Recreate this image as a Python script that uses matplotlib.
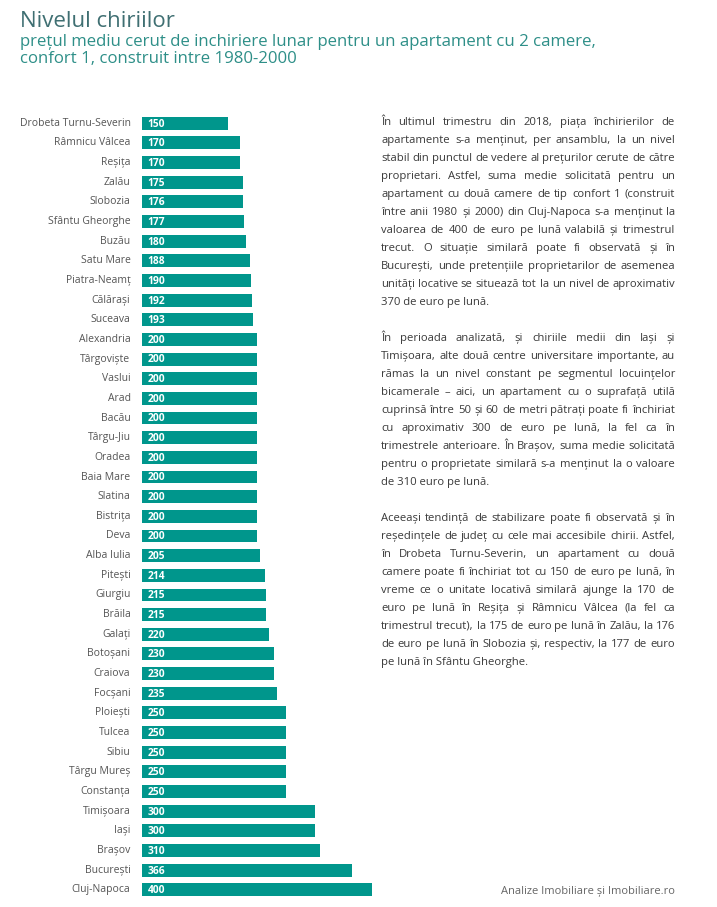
import matplotlib
matplotlib.use("Agg")
import matplotlib.pyplot as plt

plt.rcParams['font.family'] = ['Open Sans', 'DejaVu Sans']

TEAL = "#00968c"

cities = [
    "Drobeta Turnu-Severin", "Râmnicu Vâlcea", "Reșița", "Zalău", "Slobozia",
    "Sfântu Gheorghe", "Buzău", "Satu Mare", "Piatra-Neamț", "Călărași",
    "Suceava", "Alexandria", "Târgoviște", "Vaslui", "Arad", "Bacău",
    "Târgu-Jiu", "Oradea", "Baia Mare", "Slatina", "Bistrița", "Deva",
    "Alba Iulia", "Pitești", "Giurgiu", "Brăila", "Galați", "Botoșani",
    "Craiova", "Focșani", "Ploiești", "Tulcea", "Sibiu", "Târgu Mureș",
    "Constanța", "Timișoara", "Iași", "Brașov", "București", "Cluj-Napoca",
]
rents = [
    150, 170, 170, 175, 176, 177, 180, 188, 190, 192,
    193, 200, 200, 200, 200, 200, 200, 200, 200, 200, 200, 200,
    205, 214, 215, 215, 220, 230, 230, 235, 250, 250, 250, 250,
    250, 300, 300, 310, 366, 400,
]

title = "Nivelul chiriilor"
subtitle = ["prețul mediu cerut de inchiriere lunar pentru un apartament cu 2 camere,",
            "confort 1, construit intre 1980-2000"]
source = "Analize Imobiliare și Imobiliare.ro"

paragraphs = [
    ["În ultimul trimestru din 2018, piața închirierilor de",
     "apartamente s-a menținut, per ansamblu, la un nivel",
     "stabil din punctul de vedere al prețurilor cerute de către",
     "proprietari. Astfel, suma medie solicitată pentru un",
     "apartament cu două camere de tip confort 1 (construit",
     "între anii 1980 și 2000) din Cluj-Napoca s-a menținut la",
     "valoarea de 400 de euro pe lună valabilă și trimestrul",
     "trecut. O situație similară poate fi observată și în",
     "București, unde pretențiile proprietarilor de asemenea",
     "unități locative se situează tot la un nivel de aproximativ",
     "370 de euro pe lună."],
    ["În perioada analizată, și chiriile medii din Iași și",
     "Timișoara, alte două centre universitare importante, au",
     "rămas la un nivel constant pe segmentul locuințelor",
     "bicamerale – aici, un apartament cu o suprafață utilă",
     "cuprinsă între 50 și 60 de metri pătrați poate fi închiriat",
     "cu aproximativ 300 de euro pe lună, la fel ca în",
     "trimestrele anterioare. În Brașov, suma medie solicitată",
     "pentru o proprietate similară s-a menținut la o valoare",
     "de 310 euro pe lună."],
    ["Aceeași tendință de stabilizare poate fi observată și în",
     "reședințele de județ cu cele mai accesibile chirii. Astfel,",
     "în Drobeta Turnu-Severin, un apartament cu două",
     "camere poate fi închiriat tot cu 150 de euro pe lună, în",
     "vreme ce o unitate locativă similară ajunge la 170 de",
     "euro pe lună în Reșița și Râmnicu Vâlcea (la fel ca",
     "trimestrul trecut), la 175 de euro pe lună în Zalău, la 176",
     "de euro pe lună în Slobozia și, respectiv, la 177 de euro",
     "pe lună în Sfântu Gheorghe."],
]

W, H = 717, 907
fig = plt.figure(figsize=(W / 100, H / 100), dpi=100)

# bar axes placed in pixel terms of the reference
x0, x1 = 142, 372
y_top, y_bot = 113.2, 899.8
ax = fig.add_axes([x0 / W, 1 - y_bot / H, (x1 - x0) / W, (y_bot - y_top) / H])
ypos = list(range(len(cities)))
ax.barh(ypos, rents, height=0.66, color=TEAL)
ax.set_xlim(0, 400)
ax.set_ylim(len(cities) - 0.5, -0.5)
ax.axis("off")
for y, (c, v) in enumerate(zip(cities, rents)):
    ax.text(-20, y, c, ha="right", va="center", fontsize=7.5, color="#555555")
    ax.text(10, y + 0.05, str(v), ha="left", va="center", fontsize=7.4,
            color="white", fontweight="bold")

# titles
fig.text(20 / W, 1 - 27 / H, title, fontsize=16, color="#3f6f72",
         va="baseline", ha="left")
fig.text(20 / W, 1 - 46 / H, subtitle[0], fontsize=12.1, color="#2e8f88",
         va="baseline", ha="left")
fig.text(20 / W, 1 - 63 / H, subtitle[1], fontsize=12.1, color="#2e8f88",
         va="baseline", ha="left")

# justified body text
renderer = fig.canvas.get_renderer()
left_px, right_px = 381, 675
body_fs = 8.1
line_h = 18
para_starts = [125, 341, 521]


def word_width(w):
    t = fig.text(0, 0, w, fontsize=body_fs)
    bb = t.get_window_extent(renderer=renderer)
    t.remove()
    return bb.width


for start, lines in zip(para_starts, paragraphs):
    for i, line in enumerate(lines):
        y = 1 - (start + i * line_h) / H
        if i == len(lines) - 1:
            fig.text(left_px / W, y, line, fontsize=body_fs, color="#3a3a3a",
                     va="baseline", ha="left")
            continue
        words = line.split(" ")
        widths = [word_width(w) for w in words]
        gap = (right_px - left_px - sum(widths)) / max(len(words) - 1, 1)
        x = left_px
        for w, wd in zip(words, widths):
            fig.text(x / W, y, w, fontsize=body_fs, color="#3a3a3a",
                     va="baseline", ha="left")
            x += wd + gap

fig.text(675 / W, 1 - 894 / H, source, fontsize=8, color="#666666",
         va="baseline", ha="right")

fig.savefig("out.png", dpi=100, facecolor="white")
